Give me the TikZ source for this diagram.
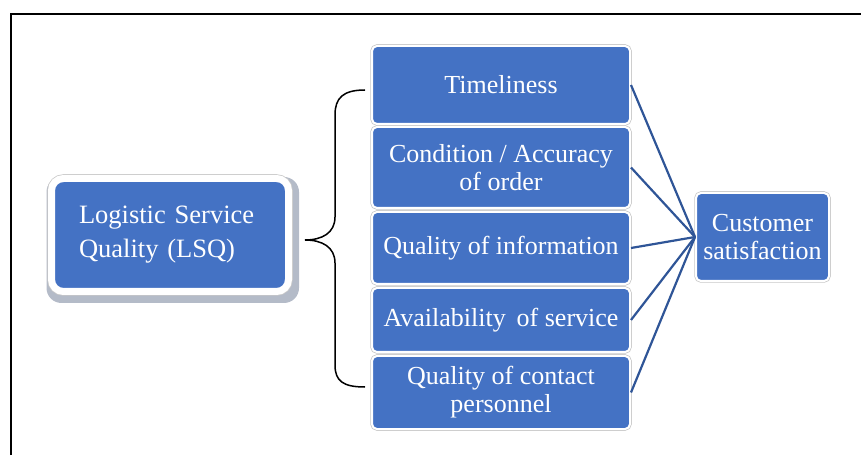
\documentclass[tikz,border=0pt]{standalone}
\usepackage{fontspec}
\setmainfont{Liberation Serif}
\usetikzlibrary{calc,backgrounds}
\definecolor{boxblue}{HTML}{4472C4}
\definecolor{linkblue}{HTML}{2F5597}
\definecolor{rimgray}{HTML}{C8C8C8}
\definecolor{shadowgray}{HTML}{B4BBC8}
\begin{document}
\begin{tikzpicture}[x=1pt,y=1pt,
  factor/.style={rounded corners=5pt, fill=boxblue, draw=white, line width=2pt,
    preaction={draw=rimgray, line width=3.5pt}, text=white,
    font=\fontsize{26}{28}\selectfont, align=center, inner sep=0pt,
    minimum width=258pt},
  mainbox/.style={rounded corners=12pt, fill=boxblue, draw=white, line width=7pt,
    preaction={draw=rimgray, line width=8.5pt}, text=white,
    font=\fontsize{26.5}{34}\selectfont, align=left, inner sep=0pt,
    minimum width=237pt, minimum height=113pt, text width=182pt},
  link/.style={draw=linkblue, line width=2.2pt},
  brace/.style={draw=black, line width=1.5pt}]
\useasboundingbox (0,0) rectangle (861,455);

% frame edges
\draw[line width=2pt] (11,0) -- (11,440.7) -- (861,440.7);

% source construct
\node[mainbox] (lsq) at (170,220) {Logistic Service\\Quality (LSQ)};
\begin{scope}[on background layer]
  \fill[shadowgray, rounded corners=15pt]
    ($(lsq.south west)+(-1.5,-8)$) rectangle ($(lsq.north east)+(7,-2)$);
\end{scope}

% dimensions
\node[factor, minimum height=78pt] (f1) at (501,370) {Timeliness};
\node[factor, minimum height=81pt] (f2) at (501,287.5) {Condition / Accuracy\\of order};
\node[factor, minimum height=72pt] (f3) at (501,207) {Quality of information};
\node[factor, minimum height=64pt] (f4) at (501,135) {Availability\, of service};
\node[factor, minimum height=73pt] (f5) at (501,62.5) {Quality of contact\\personnel};

% outcome
\node[factor, minimum width=133pt, minimum height=88pt] (cs) at (762.5,218)
  {Customer\\satisfaction};

% links to the outcome
\foreach \f in {f1,f2,f3,f4,f5}
  \draw[link] (\f.east) -- (cs.west);

% curly brace grouping the dimensions
\coordinate (btop) at (365,365);
\coordinate (btip) at (305,215);
\coordinate (bbot) at (365,68);
\draw[brace] (btop) .. controls (343,365) and (335,357) .. (335,340)
  -- (335,238) .. controls (335,222) and (322,215) .. (btip)
  .. controls (322,215) and (335,208) .. (335,192)
  -- (335,90) .. controls (335,74) and (343,68) .. (bbot);
\end{tikzpicture}
\end{document}
